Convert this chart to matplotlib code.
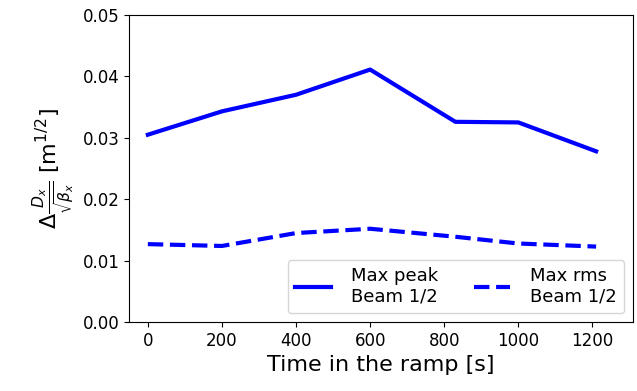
import matplotlib
matplotlib.use("Agg")
import matplotlib.pyplot as plt

time_s = [0, 200, 400, 600, 830, 1000, 1210]
max_peak = [0.0305, 0.0343, 0.0370, 0.0411, 0.0326, 0.0325, 0.0278]
max_rms = [0.0127, 0.0124, 0.0145, 0.0152, 0.0139, 0.0128, 0.0123]

fig = plt.figure(figsize=(6.37, 3.91), dpi=100)
ax = fig.add_axes([0.203, 0.176, 0.791, 0.786])
ax.plot(time_s, max_peak, color='blue', lw=3, label='Max peak\nBeam 1/2')
ax.plot(time_s, max_rms, color='blue', lw=3, ls='--', label='Max rms\nBeam 1/2')
ax.set_ylim(0, 0.05)
ax.set_xlim(-50, 1310)
ax.set_xticks([0, 200, 400, 600, 800, 1000, 1200])
ax.set_yticks([0, 0.01, 0.02, 0.03, 0.04, 0.05])
ax.tick_params(labelsize=12)
ax.set_xlabel('Time in the ramp [s]', fontsize=16)
ax.set_ylabel(r'$\Delta\frac{D_x}{\sqrt{\beta_x}}$ [m$^{1/2}$]', fontsize=16)
ax.legend(ncol=2, loc='lower right', fontsize=13, handletextpad=1.1)
fig.savefig('out.png', dpi=100)
